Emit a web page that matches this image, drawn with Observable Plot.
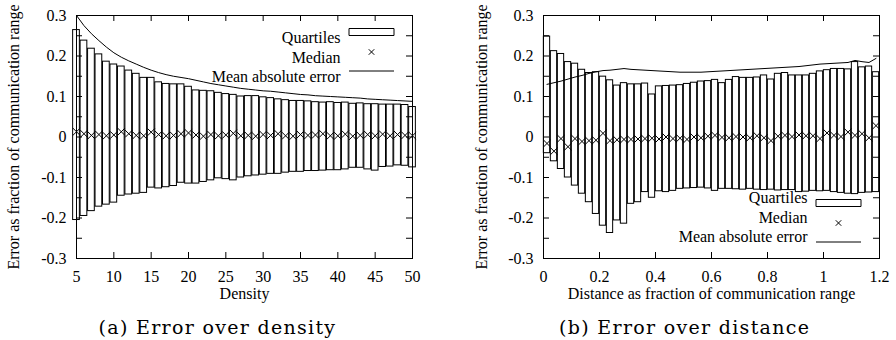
<!DOCTYPE html>
<html><head><meta charset="utf-8">
<script src="https://cdn.jsdelivr.net/npm/d3@7"></script>
<script src="https://cdn.jsdelivr.net/npm/@observablehq/plot@0.6"></script>
<style>
html,body{margin:0;padding:0;background:#fff;}
#wrap{position:relative;width:896px;height:340px;overflow:hidden;background:#fff;}
.panel{position:absolute;top:0;width:448px;height:310px;}
.cap{position:absolute;top:317px;font-family:"DejaVu Serif",serif;font-size:19px;letter-spacing:1.3px;white-space:nowrap;transform:translateX(-50%);line-height:20px;color:#000;}
</style></head><body>
<div id="wrap">
<div class="panel" id="pa" style="left:0"></div>
<div class="panel" id="pb" style="left:448px"></div>
<div class="cap" id="ca" style="left:217.5px"></div>
<div class="cap" id="cb" style="left:684.7px"></div>
</div>
<script>
// ---------- data: panel (a) error over density ----------
const density = [5,6,7,8,9,10,11,12,13,14,15,16,17,18,19,20,21,22,23,24,25,26,27,28,29,30,31,32,33,34,35,36,37,38,39,40,41,42,43,44,45,46,47,48,49,50];
const upperA = [0.264,0.238,0.218,0.204,0.186,0.179,0.174,0.164,0.156,0.146,0.146,0.135,0.131,0.130,0.130,0.124,0.115,0.114,0.113,0.109,0.106,0.104,0.100,0.101,0.101,0.098,0.096,0.093,0.091,0.089,0.089,0.088,0.086,0.085,0.086,0.084,0.085,0.082,0.083,0.081,0.081,0.080,0.080,0.080,0.079,0.074];
const lowerA = [-0.205,-0.195,-0.183,-0.172,-0.167,-0.162,-0.145,-0.142,-0.140,-0.138,-0.125,-0.127,-0.124,-0.121,-0.113,-0.115,-0.115,-0.111,-0.107,-0.102,-0.104,-0.107,-0.100,-0.097,-0.095,-0.093,-0.091,-0.091,-0.088,-0.086,-0.086,-0.084,-0.084,-0.083,-0.082,-0.082,-0.080,-0.076,-0.076,-0.080,-0.083,-0.074,-0.073,-0.070,-0.071,-0.075];
const medianA = [0.013,0.008,0.004,0.006,0.003,0.005,0.013,0.008,0.004,0.003,0.012,0.006,0.003,0.004,0.008,0.010,0.005,0.002,0.006,0.003,0.005,0.009,0.003,0.004,0.002,0.006,0.004,0.008,0.003,0.002,0.006,0.004,0.005,0.008,0.003,0.003,0.007,0.002,0.004,0.006,0.003,0.007,0.003,0.006,0.004,0.003];
const meanA = [0.300,0.275,0.255,0.238,0.222,0.208,0.197,0.188,0.180,0.172,0.165,0.159,0.154,0.150,0.147,0.144,0.140,0.136,0.132,0.129,0.126,0.123,0.120,0.118,0.116,0.114,0.113,0.111,0.109,0.107,0.105,0.104,0.102,0.101,0.100,0.099,0.098,0.097,0.096,0.094,0.093,0.092,0.091,0.090,0.089,0.088];

// ---------- data: panel (b) error over distance ----------
const distance = [0.0125,0.0375,0.0625,0.0875,0.1125,0.1375,0.1625,0.1875,0.2125,0.2375,0.2625,0.2875,0.3125,0.3375,0.3625,0.3875,0.4125,0.4375,0.4625,0.4875,0.5125,0.5375,0.5625,0.5875,0.6125,0.6375,0.6625,0.6875,0.7125,0.7375,0.7625,0.7875,0.8125,0.8375,0.8625,0.8875,0.9125,0.9375,0.9625,0.9875,1.0125,1.0375,1.0625,1.0875,1.1125,1.1375,1.1625,1.1875];
const upperB = [0.248,0.212,0.205,0.185,0.181,0.166,0.158,0.160,0.149,0.140,0.127,0.133,0.130,0.130,0.132,0.105,0.125,0.126,0.127,0.128,0.131,0.134,0.137,0.138,0.141,0.133,0.141,0.148,0.146,0.146,0.147,0.152,0.142,0.156,0.158,0.152,0.152,0.152,0.156,0.162,0.165,0.168,0.168,0.167,0.185,0.172,0.174,0.160];
const lowerB = [-0.040,-0.060,-0.079,-0.100,-0.120,-0.140,-0.161,-0.190,-0.219,-0.237,-0.206,-0.214,-0.165,-0.161,-0.136,-0.150,-0.134,-0.136,-0.133,-0.128,-0.127,-0.126,-0.125,-0.127,-0.133,-0.128,-0.128,-0.129,-0.130,-0.128,-0.130,-0.131,-0.130,-0.132,-0.131,-0.131,-0.136,-0.135,-0.133,-0.134,-0.133,-0.136,-0.138,-0.140,-0.141,-0.138,-0.137,-0.136];
const medianB = [-0.016,-0.035,-0.004,-0.024,-0.004,-0.011,-0.009,-0.008,0.009,-0.009,-0.007,-0.006,-0.006,-0.005,-0.004,-0.003,-0.005,0.000,-0.004,-0.003,-0.006,0.000,-0.002,0.002,0.004,-0.001,-0.002,0.001,0.000,-0.002,0.003,-0.002,-0.009,0.002,0.004,0.001,0.005,0.003,0.003,-0.004,0.010,0.004,0.001,0.012,0.004,0.008,-0.002,0.028];
const meanB = [0.130,0.134,0.138,0.143,0.148,0.152,0.157,0.161,0.164,0.165,0.167,0.169,0.167,0.166,0.165,0.164,0.163,0.162,0.161,0.160,0.160,0.160,0.160,0.161,0.162,0.163,0.164,0.165,0.166,0.167,0.168,0.169,0.170,0.171,0.172,0.173,0.174,0.176,0.178,0.180,0.181,0.182,0.183,0.184,0.189,0.186,0.184,0.194];

// ---------- ticks and labels ----------
const yTicks = [-0.3,-0.2,-0.1,0,0.1,0.2,0.3];
const yTickLabels = ["-0.3","-0.2","-0.1","0","0.1","0.2","0.3"];
const yMinorTicks = [-0.25,-0.15,-0.05,0.05,0.15,0.25];
const xTicksA = [5,10,15,20,25,30,35,40,45,50];
const xTickLabelsA = ["5","10","15","20","25","30","35","40","45","50"];
const xTicksB = [0,0.2,0.4,0.6,0.8,1.0,1.2];
const xTickLabelsB = ["0","0.2","0.4","0.6","0.8","1","1.2"];
const yLabel = "Error as fraction of communication range";
const xLabelA = "Density";
const xLabelB = "Distance as fraction of communication range";
const legendLabels = ["Quartiles","Median","Mean absolute error"];
const captionA = "(a) Error over density";
const captionB = "(b) Error over distance";

const boxSymbol = {draw(ctx){ ctx.rect(-22.5,-3.5,45,7); }};
const lineSymbol = {draw(ctx){ ctx.moveTo(-22.5,0); ctx.lineTo(22.5,0); }};

function panel(o){
  const W=448, H=310, mt=15, mb=52;
  const iw = W - o.marginLeft - o.marginRight, ih = H - mt - mb;
  const rows = o.xs.map((x,i)=>({x, lo:o.lower[i], hi:o.upper[i], med:o.median[i], mae:o.mean[i]}));
  const fx = new Map(o.xTicks.map((t,i)=>[t,o.xTickLabels[i]]));
  const fy = new Map(yTicks.map((t,i)=>[t,yTickLabels[i]]));
  const allY = yTicks.concat(yMinorTicks);
  const fa = o.legendAnchor, dys = o.legendDy;
  const font = "Liberation Serif";
  return Plot.plot({
    width:W, height:H, marginLeft:o.marginLeft, marginRight:o.marginRight, marginTop:mt, marginBottom:mb,
    x:{domain:o.xDomain}, y:{domain:[-0.3,0.3]},
    style:{fontFamily:font, fontSize:"16px", color:"black", background:"white", overflow:"visible"},
    marks:[
      Plot.rect(rows,{x1:d=>d.x-o.boxW/2, x2:d=>d.x+o.boxW/2, y1:"lo", y2:"hi", fill:"none", stroke:"black", strokeWidth:1}),
      Plot.line(rows,{x:"x", y:"mae", stroke:"black", strokeWidth:1}),
      Plot.dot(rows,{x:"x", y:"med", symbol:"times", r:3.4, stroke:"black", strokeWidth:1}),
      Plot.frame({stroke:"black", strokeWidth:1}),
      Plot.tickY(allY,{y:d=>d, insetRight:iw-6, stroke:"black"}),
      Plot.tickY(allY,{y:d=>d, insetLeft:iw-6, stroke:"black"}),
      Plot.tickX(o.xTicks,{x:d=>d, insetTop:ih-6, stroke:"black"}),
      Plot.tickX(o.xTicks,{x:d=>d, insetBottom:ih-6, stroke:"black"}),
      Plot.axisX({ticks:o.xTicks, tickFormat:d=>fx.get(d), tickSize:0, tickPadding:12, label:null, fontFamily:font, fontSize:16}),
      Plot.axisY({ticks:yTicks, tickFormat:d=>fy.get(d), tickSize:0, tickPadding:10, label:null, fontFamily:font, fontSize:16}),
      Plot.text([o.xLabel],{frameAnchor:"bottom", dy:40, text:d=>d, fontFamily:font, fontSize:16}),
      Plot.text([yLabel],{frameAnchor:"left", textAnchor:"middle", rotate:-90, dx:o.yLabelDx, text:d=>d, fontFamily:font, fontSize:16}),
      ...legendLabels.map((t,i)=>Plot.text([t],{frameAnchor:fa, textAnchor:"end", dx:-72, dy:dys[i], text:d=>d, fontFamily:font, fontSize:16})),
      Plot.dot([0],{frameAnchor:fa, dx:-41, dy:dys[0], symbol:boxSymbol, fill:"none", stroke:"black", strokeWidth:1}),
      Plot.dot([0],{frameAnchor:fa, dx:-41, dy:dys[1], symbol:"times", r:2.6, stroke:"black", strokeWidth:1}),
      Plot.dot([0],{frameAnchor:fa, dx:-41, dy:dys[2], symbol:lineSymbol, fill:"none", stroke:"black", strokeWidth:1})
    ]
  });
}

document.getElementById("pa").appendChild(panel({
  xs:density, upper:upperA, lower:lowerA, median:medianA, mean:meanA, boxW:0.9,
  xDomain:[5,50], xTicks:xTicksA, xTickLabels:xTickLabelsA, xLabel:xLabelA,
  marginLeft:76, marginRight:36, yLabelDx:-63,
  legendAnchor:"top-right", legendDy:[16.5,36.5,55.5]
}));
document.getElementById("pb").appendChild(panel({
  xs:distance, upper:upperB, lower:lowerB, median:medianB, mean:meanB, boxW:0.0225,
  xDomain:[0,1.2], xTicks:xTicksB, xTickLabels:xTickLabelsB, xLabel:xLabelB,
  marginLeft:95, marginRight:17, yLabelDx:-62,
  legendAnchor:"bottom-right", legendDy:[-55.5,-35.5,-16.5]
}));
document.getElementById("ca").textContent = captionA;
document.getElementById("cb").textContent = captionB;
</script>
</body></html>
